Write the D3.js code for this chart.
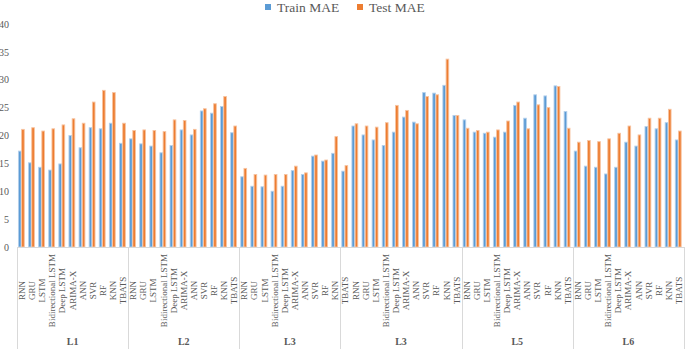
<!DOCTYPE html>
<html>
<head>
<meta charset="utf-8">
<script src="https://cdn.jsdelivr.net/npm/d3@7/dist/d3.min.js"></script>
<style>
  html, body { margin: 0; padding: 0; background: #fff; }
  svg { display: block; }
  text { font-family: "Liberation Serif", "Times New Roman", serif; fill: #595959; }
</style>
</head>
<body>
<div id="chart"></div>
<script>
// model order repeats inside every dataset block
const models = ["RNN", "GRU", "LSTM", "Bidirectional LSTM", "Deep LSTM", "ARIMA-X",
                "ANN", "SVR", "RF", "KNN", "TBATS"];
// outer category labels and how many inner categories each one spans (as printed)
const groupLabels = ["L1", "L2", "L3", "L3", "L5", "L6"];
const groupSpans = [11, 11, 10, 12, 11, 11];

const trainMAE = [
  17.2, 15.1, 14.3, 13.8, 14.9, 20.0, 17.8, 21.4, 21.2, 22.2, 18.6,
  19.4, 18.5, 18.1, 16.9, 18.2, 21.0, 20.1, 24.4, 24.0, 25.2, 20.5,
  12.6, 10.9, 10.8, 10.0, 10.9, 13.7, 13.0, 16.3, 15.4, 16.8, 13.6,
  21.7, 20.1, 19.2, 18.2, 20.6, 23.3, 22.4, 27.7, 27.6, 29.0, 23.6,
  22.8, 20.6, 20.4, 19.7, 20.6, 25.4, 23.1, 27.3, 27.1, 28.9, 24.3,
  17.2, 14.5, 14.3, 13.1, 14.3, 18.8, 18.1, 21.6, 21.2, 22.3, 19.2
];
const testMAE = [
  21.1, 21.4, 20.8, 21.2, 21.9, 23.0, 22.2, 26.0, 28.1, 27.7, 22.2,
  20.9, 21.0, 20.9, 20.7, 22.8, 22.7, 21.1, 24.8, 25.7, 27.0, 21.7,
  14.1, 13.0, 12.9, 13.0, 13.0, 14.5, 13.3, 16.5, 15.6, 19.8, 14.6,
  22.1, 21.7, 21.5, 22.3, 25.4, 24.5, 22.1, 27.0, 27.3, 33.7, 23.6,
  21.3, 20.9, 20.6, 21.0, 22.6, 26.0, 21.2, 25.5, 25.0, 28.8, 21.3,
  18.8, 19.1, 18.9, 19.4, 20.4, 21.7, 20.1, 23.1, 23.1, 24.7, 20.8
];
const yTicks = [0, 5, 10, 15, 20, 25, 30, 35, 40];

(function () {
  const W = 685, H = 349;
  const plotL = 17, plotR = 684, base = 247, plotT = 24;
  const series = [
    { key: "Train MAE", values: trainMAE, fill: "#5B9BD5", edge: "#b4d0ec" },
    { key: "Test MAE", values: testMAE, fill: "#ED7D31", edge: "#f7c3a0" }
  ];

  const n = trainMAE.length;
  const labels = d3.range(n).map(i => models[i % models.length]);

  const svg = d3.select("#chart").append("svg")
    .attr("width", W).attr("height", H).attr("viewBox", `0 0 ${W} ${H}`);

  const x = d3.scaleBand().domain(d3.range(n)).range([plotL, plotR]).padding(0);
  const bw = x.bandwidth();
  const xs = d3.scaleBand().domain(series.map(s => s.key))
    .range([bw * 0.14, bw * 0.72]).paddingInner(0.18);
  const y = d3.scaleLinear().domain([0, 40]).range([base, plotT]);

  // y axis labels only (no line, no gridlines)
  const ya = svg.append("g").attr("transform", `translate(${plotL},0)`)
    .call(d3.axisLeft(y).tickValues(yTicks).tickSize(0).tickPadding(8));
  ya.select(".domain").remove();
  ya.selectAll("text").style("font-family", '"Liberation Serif", serif')
    .style("font-size", "10px").attr("fill", "#595959");

  // bars
  series.forEach(s => {
    svg.append("g").selectAll("rect").data(s.values).join("rect")
      .attr("x", (d, i) => x(i) + xs(s.key))
      .attr("y", d => y(d))
      .attr("width", xs.bandwidth())
      .attr("height", d => base - y(d))
      .attr("fill", s.fill)
      .attr("stroke", s.edge).attr("stroke-width", 0.9);
  });

  // category axis: baseline + group separators
  const grid = svg.append("g").attr("stroke", "#d9d9d9").attr("stroke-width", 1);
  grid.append("line").attr("x1", plotL).attr("x2", plotR)
    .attr("y1", base + 0.5).attr("y2", base + 0.5);
  let start = 0;
  const bounds = [0];
  groupSpans.forEach(c => { start += c; bounds.push(start); });
  const bx = b => (b === n ? plotR : x(b));
  bounds.forEach(b => {
    const px = Math.round(bx(b)) + 0.5;
    grid.append("line").attr("x1", px).attr("x2", px).attr("y1", base).attr("y2", H);
  });

  // inner category labels, rotated and centred
  svg.append("g").selectAll("text").data(labels).join("text")
    .attr("transform", (d, i) => `translate(${x(i) + bw / 2 + 3},290.5) rotate(-90)`)
    .attr("text-anchor", "middle")
    .style("font-size", "9px")
    .attr("fill", "#404040")
    .text(d => d);

  // outer group labels
  svg.append("g").selectAll("text").data(groupLabels).join("text")
    .attr("x", (d, i) => (bx(bounds[i]) + bx(bounds[i + 1])) / 2)
    .attr("y", 345)
    .attr("text-anchor", "middle")
    .style("font-size", "10px").style("font-weight", "bold")
    .attr("fill", "#404040")
    .text(d => d);

  // legend
  const lg = svg.append("g");
  const legendX = [265, 357];
  series.forEach((s, i) => {
    lg.append("rect").attr("x", legendX[i]).attr("y", 4).attr("width", 6).attr("height", 6)
      .attr("fill", s.fill);
    lg.append("text").attr("x", legendX[i] + 12).attr("y", 12)
      .style("font-size", "13.5px").text(s.key);
  });
})();
</script>
</body>
</html>
